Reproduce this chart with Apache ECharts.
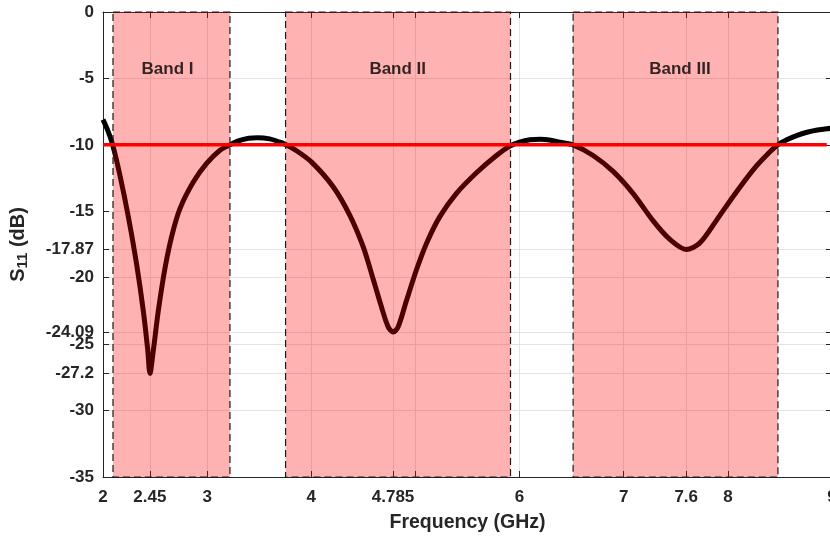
<!DOCTYPE html>
<html>
<head>
<meta charset="utf-8">
<script src="https://cdn.jsdelivr.net/npm/echarts@6/dist/echarts.min.js"></script>
<style>html,body{margin:0;padding:0;background:#fff}#c{width:830px;height:537px}</style>
</head>
<body>
<div id="c"></div>
<script>
// ---- data ----
const freq = [2.0, 2.05, 2.093, 2.163, 2.243, 2.323, 2.387, 2.429, 2.451, 2.483, 2.531, 2.595, 2.659, 2.739, 2.867, 2.995, 3.123, 3.219, 3.3, 3.4, 3.485, 3.6, 3.7, 3.747, 3.85, 4.003, 4.21, 4.37, 4.498, 4.594, 4.674, 4.738, 4.786, 4.834, 4.915, 5.01, 5.107, 5.234, 5.394, 5.586, 5.778, 5.906, 6.0, 6.1, 6.2, 6.3, 6.386, 6.514, 6.706, 6.898, 7.089, 7.281, 7.441, 7.6, 7.729, 7.889, 8.049, 8.241, 8.369, 8.481, 8.57, 8.66, 8.76, 8.86, 8.95, 9.0];
const s11 = [-8.1, -9.0, -10.0, -12.3, -15.4, -19.0, -22.5, -25.4, -27.2, -25.5, -22.5, -19.3, -16.9, -14.8, -12.8, -11.4, -10.4, -10.0, -9.7, -9.5, -9.46, -9.55, -9.8, -9.95, -10.4, -11.3, -13.15, -15.3, -17.66, -20.1, -22.2, -23.7, -24.09, -23.7, -21.7, -19.4, -17.4, -15.4, -13.65, -12.1, -10.8, -10.1, -9.8, -9.62, -9.58, -9.65, -9.8, -10.0, -10.8, -12.0, -13.65, -15.7, -17.1, -17.87, -17.4, -15.7, -13.9, -11.9, -10.8, -10.0, -9.6, -9.3, -9.05, -8.88, -8.78, -8.75];
const bandStart = [2.096, 3.753, 6.514];
const bandEnd = [3.219, 5.913, 8.481];
const bandNames = ['Band I', 'Band II', 'Band III'];
const bandLabelX = [2.62, 4.83, 7.54];
const bandLabelY = [-4.3, -4.3, -4.3];
const thresholdX = [2, 8.95];
const thresholdY = [-10, -10];
const xTicks = [2, 2.45, 3, 4, 4.785, 5, 6, 7, 7.6, 8, 9];
const xTickLabels = [2, 2.45, 3, 4, 4.785, 6, 7, 7.6, 8, 9];
const yTicks = [0, -5, -10, -15, -17.87, -20, -24.09, -25, -27.2, -30, -35];
const xRange = [2, 9];
const yRange = [-35, 0];

// ---- chart ----
const chart = echarts.init(document.getElementById('c'), null, {renderer: 'canvas'});
const FONT = 'Liberation Sans, Arial, Helvetica, sans-serif';
const AX = '#262626';
const lblStyle = {fontFamily: FONT, fontWeight: 'bold', fontSize: 17, color: AX};

const curve = freq.map((f, i) => [f, s11[i]]);
const bands = bandStart.map((s, i) => [s, bandEnd[i]]);
const labels = bandLabelX.map((x, i) => [x, bandLabelY[i], bandNames[i]]);
const thr = thresholdX.map((x, i) => [x, thresholdY[i]]);

chart.setOption({
  animation: false,
  backgroundColor: '#fff',
  grid: {left: 103, top: 12, width: 729, height: 465, containLabel: false, outerBoundsMode: 'none'},
  xAxis: [{
    type: 'value', min: xRange[0], max: xRange[1], position: 'bottom',
    name: 'Frequency (GHz)', nameLocation: 'middle', nameGap: 36,
    nameTextStyle: {fontFamily: FONT, fontWeight: 'bold', fontSize: 19.5, color: AX},
    axisLine: {show: true, onZero: false, lineStyle: {color: AX, width: 1}},
    axisTick: {show: true, inside: true, length: 6, customValues: xTicks, lineStyle: {color: AX}},
    axisLabel: Object.assign({customValues: xTickLabels, margin: 12, showMaxLabel: true, showMinLabel: true, hideOverlap: false}, lblStyle),
    splitLine: {show: true, lineStyle: {color: '#e3e3e3', width: 1}}
  }, {
    type: 'value', min: xRange[0], max: xRange[1], position: 'top',
    axisLine: {show: true, onZero: false, lineStyle: {color: AX, width: 1}},
    axisTick: {show: true, inside: true, length: 6, customValues: xTicks, lineStyle: {color: AX}},
    axisLabel: {show: false},
    splitLine: {show: false}
  }],
  yAxis: [{
    type: 'value', min: yRange[0], max: yRange[1], position: 'left',
    name: '{s|S}{sub|11}{s| (dB)}', nameLocation: 'middle', nameGap: 73, nameRotate: 90,
    nameTextStyle: {
      rich: {
        s: {fontFamily: FONT, fontWeight: 'bold', fontSize: 20, color: AX},
        sub: {fontFamily: FONT, fontWeight: 'bold', fontSize: 15, color: AX, verticalAlign: 'bottom', padding: [9, 0, 0, 0]}
      }
    },
    axisLine: {show: true, onZero: false, lineStyle: {color: AX, width: 1}},
    axisTick: {show: true, inside: true, length: 6, customValues: yTicks, lineStyle: {color: AX}},
    axisLabel: Object.assign({customValues: yTicks, margin: 9}, lblStyle),
    splitLine: {show: true, lineStyle: {color: '#e3e3e3', width: 1}}
  }, {
    type: 'value', min: yRange[0], max: yRange[1], position: 'right',
    axisLine: {show: true, onZero: false, lineStyle: {color: AX, width: 1}},
    axisTick: {show: true, inside: true, length: 6, customValues: yTicks, lineStyle: {color: AX}},
    axisLabel: {show: false},
    splitLine: {show: false}
  }],
  series: [{
    type: 'line', name: 'S11', data: curve, z: 2,
    showSymbol: false, symbol: 'none', smooth: 0.3,
    lineStyle: {color: '#000', width: 5}
  }, {
    type: 'custom', name: 'bands', data: bands, z: 3,
    renderItem: function (params, api) {
      const p0 = api.coord([api.value(0), yRange[1]]);
      const p1 = api.coord([api.value(1), yRange[0]]);
      return {
        type: 'rect',
        shape: {x: p0[0], y: p0[1], width: p1[0] - p0[0], height: p1[1] - p0[1]},
        style: {fill: 'rgba(255,0,0,0.3)', stroke: '#1a1a1a', lineWidth: 1.2, lineDash: [7, 4]}
      };
    }
  }, {
    type: 'line', name: 'threshold', data: thr, z: 4,
    showSymbol: false, symbol: 'none',
    lineStyle: {color: '#ff0000', width: 3.5}
  }, {
    type: 'scatter', name: 'bandLabels', data: labels, z: 5,
    symbolSize: 0,
    label: {
      show: true, position: 'inside', formatter: p => p.value[2],
      fontFamily: FONT, fontWeight: 'bold', fontSize: 17, color: '#000'
    }
  }]
});
</script>
</body>
</html>
